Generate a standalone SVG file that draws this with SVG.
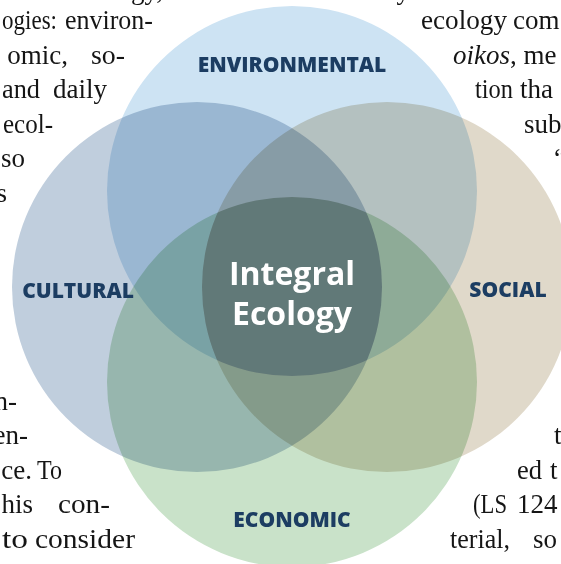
<svg xmlns="http://www.w3.org/2000/svg" width="561" height="564" viewBox="0 0 561 564">
<style>
.body{font-family:"Liberation Serif","Times New Roman",serif;font-size:27px;fill:#151515}
.e{text-anchor:end}
.lbl{font-family:"Open Sans","Noto Sans",sans-serif;font-weight:800;font-size:21px;fill:#1c3d62;text-anchor:middle}
.ctr{font-family:"Open Sans","Noto Sans",sans-serif;font-weight:700;font-size:32px;fill:#ffffff;text-anchor:middle}
.mul{mix-blend-mode:multiply}
</style>
<defs>
<clipPath id="cT"><circle cx="292" cy="191" r="185"/></clipPath>
<clipPath id="cL"><circle cx="197" cy="287" r="185"/></clipPath>
<clipPath id="cR"><circle cx="387" cy="287" r="185"/></clipPath>
</defs>
<rect width="561" height="564" fill="#ffffff"/>
<g id="page-text" class="body">
<text class="e" x="163" y="-1">ogy,</text>
<text x="2" y="29" textLength="55" lengthAdjust="spacingAndGlyphs">ogies:</text>
<text x="65" y="29" textLength="88" lengthAdjust="spacingAndGlyphs">environ-</text>
<text class="e" x="68" y="63.6">omic,</text>
<text x="91" y="63.6" textLength="34" lengthAdjust="spacingAndGlyphs">so-</text>
<text x="2" y="98.2" textLength="38" lengthAdjust="spacingAndGlyphs">and</text>
<text x="53" y="98.2" textLength="54" lengthAdjust="spacingAndGlyphs">daily</text>
<text x="3" y="132.8" textLength="50" lengthAdjust="spacingAndGlyphs">ecol-</text>
<text class="e" x="25" y="167.4">so</text>
<text class="e" x="7" y="202">s</text>
<text class="e" x="17" y="409.6">n-</text>
<text class="e" x="28" y="444.2">en-</text>
<text class="e" x="32" y="478.8">ce.</text>
<text x="37" y="478.8" textLength="25" lengthAdjust="spacingAndGlyphs">To</text>
<text class="e" x="33" y="513.4">his</text>
<text x="58" y="513.4" textLength="52" lengthAdjust="spacingAndGlyphs">con-</text>
<text x="2" y="548" textLength="26" lengthAdjust="spacingAndGlyphs">to</text>
<text x="35" y="548" textLength="100" lengthAdjust="spacingAndGlyphs">consider</text>
<text class="e" x="410" y="-1">y</text>
<text x="421" y="29" textLength="86" lengthAdjust="spacingAndGlyphs">ecology</text>
<text x="513" y="29">com</text>
<text x="453" y="63.6"><tspan font-style="italic">oikos</tspan>, me</text>
<text x="475" y="98.2" textLength="38" lengthAdjust="spacingAndGlyphs">tion</text>
<text x="520" y="98.2">tha</text>
<text x="524" y="132.8">sub</text>
<text x="554" y="167.4">“</text>
<text x="554" y="444.2">t</text>
<text x="517" y="478.8" textLength="25" lengthAdjust="spacingAndGlyphs">ed</text>
<text x="550" y="478.8">t</text>
<text x="473" y="513.4" textLength="34" lengthAdjust="spacingAndGlyphs">(LS</text>
<text x="517" y="513.4">124</text>
<text x="450" y="548" textLength="60" lengthAdjust="spacingAndGlyphs">terial,</text>
<text x="533" y="548">so</text>
</g>
<g id="environmental">
<circle class="mul" cx="292" cy="191" r="185" fill="#cde3f3"/>
</g>
<g id="cultural">
<circle class="mul" cx="197" cy="287" r="185" fill="#c0cedd"/>
</g>
<g id="social">
<circle class="mul" cx="387" cy="287" r="185" fill="#e0d9ca"/>
</g>
<g id="economic">
<circle class="mul" cx="292" cy="382" r="185" fill="#c9e2c9"/>
</g>
<g id="integral-ecology">
<g class="mul" clip-path="url(#cT)"><g clip-path="url(#cL)"><g clip-path="url(#cR)">
<circle cx="292" cy="382" r="185" fill="#eadfe9"/>
</g></g></g>
</g>
<g id="labels">
<text class="lbl" x="292" y="72">ENVIRONMENTAL</text>
<text class="lbl" x="78" y="298">CULTURAL</text>
<text class="lbl" x="508" y="297">SOCIAL</text>
<text class="lbl" x="292" y="527">ECONOMIC</text>
<text class="ctr" x="292" y="285">Integral</text>
<text class="ctr" x="292" y="325">Ecology</text>
</g>
</svg>
